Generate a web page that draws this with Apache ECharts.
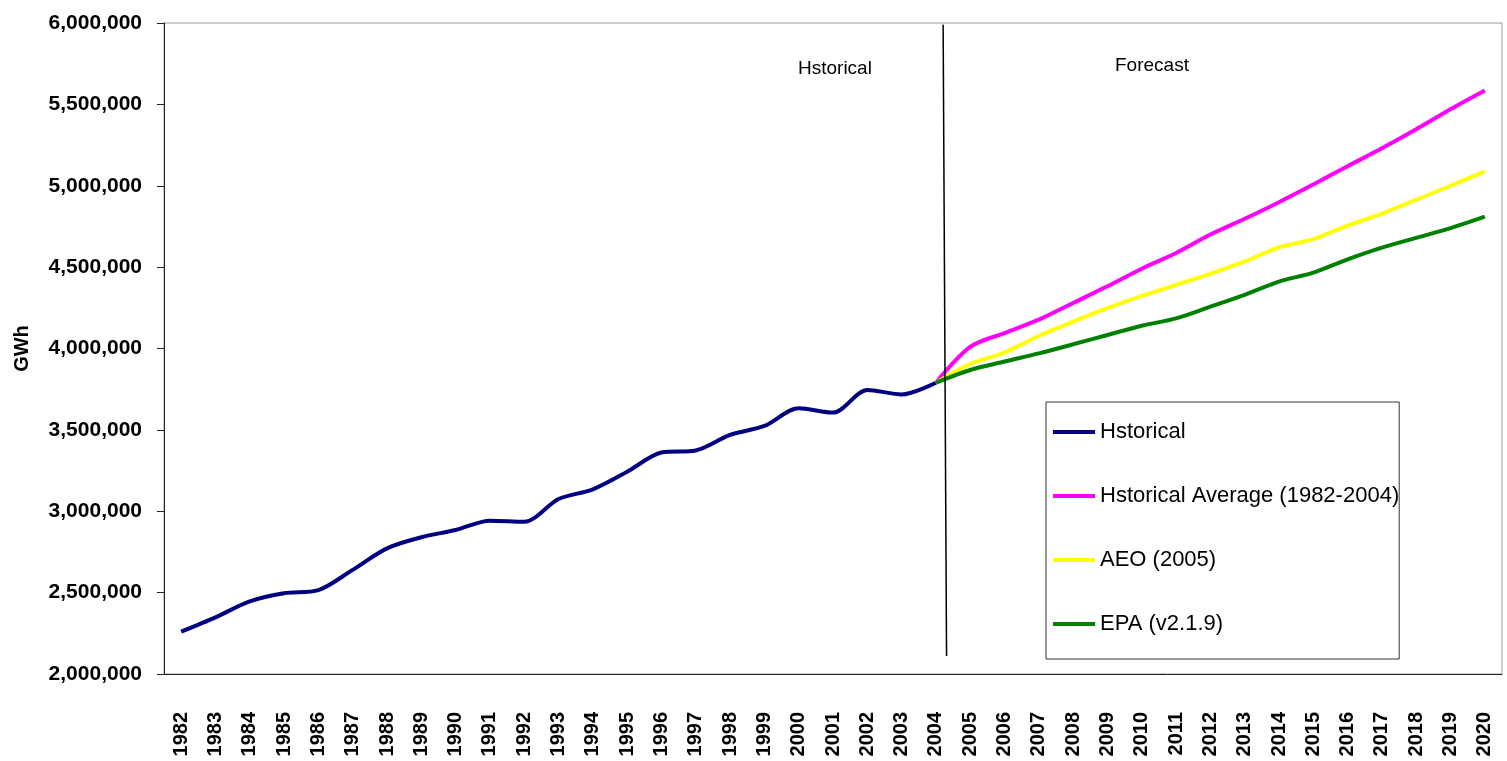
<!DOCTYPE html>
<html>
<head>
<meta charset="utf-8">
<style>
  html, body { margin: 0; padding: 0; background: #fff; }
  #chart { width: 1507px; height: 761px; }
</style>
<script src="https://cdn.jsdelivr.net/npm/echarts@6/dist/echarts.min.js"></script>
</head>
<body>
<div id="chart"></div>
<script>
// years on the category axis
const years = [
  "1982", "1983", "1984", "1985", "1986", "1987", "1988", "1989", "1990",
  "1991", "1992", "1993", "1994", "1995", "1996", "1997", "1998", "1999",
  "2000", "2001", "2002", "2003", "2004", "2005", "2006", "2007", "2008",
  "2009", "2010", "2011", "2012", "2013", "2014", "2015", "2016", "2017",
  "2018", "2019", "2020"
];

// 1982-2004, GWh
const historical = [
  2260000, 2348000, 2446000, 2496000, 2515000, 2640000, 2772000, 2840000,
  2885000, 2942000, 2935000, 3075000, 3135000, 3243000, 3361000, 3373000,
  3469000, 3524000, 3633000, 3606000, 3745000, 3718000, 3790000
];

// 2004-2020, GWh
const histAverage = [
  3790000, 4010000, 4095000, 4177000, 4280000, 4382000, 4490000, 4587000,
  4700000, 4797000, 4899000, 5008000, 5120000, 5230000, 5347000, 5470000, 5585000
];
const aeo2005 = [
  3790000, 3905000, 3975000, 4077000, 4165000, 4248000, 4323000, 4391000,
  4459000, 4535000, 4621000, 4672000, 4755000, 4828000, 4914000, 5000000, 5088000
];
const epa219 = [
  3790000, 3868000, 3920000, 3970000, 4026000, 4083000, 4140000, 4185000,
  4257000, 4330000, 4411000, 4466000, 4548000, 4620000, 4680000, 4740000, 4810000
];

// y axis ticks
const yMin = 2000000;
const yMax = 6000000;
const yStep = 500000;

const seriesNames = ["Hstorical", "Hstorical Average (1982-2004)", "AEO (2005)", "EPA (v2.1.9)"];
const seriesColors = ["#000080", "#ff00ff", "#ffff00", "#008000"];

// pad the series to the full year range
const histData = historical.concat(new Array(years.length - historical.length).fill(null));
const pad = new Array(years.length - histAverage.length).fill(null);
const forecastData = [histAverage, aeo2005, epa219].map(arr => pad.concat(arr));

const font = "'Liberation Sans', Arial, sans-serif";

function lineSeries(name, data, color) {
  return {
    name: name,
    type: "line",
    data: data,
    smooth: 0.3,
    showSymbol: false,
    symbol: "none",
    lineStyle: { width: 4, color: color },
    itemStyle: { color: color },
    z: 3
  };
}

const chart = echarts.init(document.getElementById("chart"));

const option = {
  animation: false,
  backgroundColor: "#fff",
  grid: {
    left: 164,
    right: 5,
    top: 23,
    bottom: 87,
    show: true,
    borderColor: "#999",
    borderWidth: 1
  },
  legend: {
    data: seriesNames,
    orient: "vertical",
    left: 1046,
    top: 402,
    padding: [19, 0, 24, 7],
    itemGap: 42,
    itemWidth: 42,
    itemHeight: 4,
    icon: "rect",
    borderColor: "#333",
    borderWidth: 1,
    backgroundColor: "#fff",
    textStyle: { fontFamily: font, fontSize: 22, lineHeight: 22, color: "#000" }
  },
  xAxis: [
    {
      type: "category",
      data: years,
      boundaryGap: true,
      axisLine: { lineStyle: { color: "#222", width: 1 } },
      axisTick: { length: 8, lineStyle: { color: "#222" } },
      axisLabel: {
        rotate: 90,
        interval: 0,
        margin: 38,
        fontFamily: font,
        fontSize: 20,
        fontWeight: "bold",
        color: "#000"
      },
      splitLine: { show: false }
    },
    {
      // hidden helper axis for the historical/forecast divider
      type: "value",
      min: 0,
      max: years.length,
      show: false
    }
  ],
  yAxis: {
    type: "value",
    min: yMin,
    max: yMax,
    interval: yStep,
    name: "GWh",
    nameLocation: "middle",
    nameRotate: 90,
    nameGap: 132,
    nameTextStyle: { fontFamily: font, fontSize: 20, fontWeight: "bold", color: "#000" },
    axisLine: { show: true, lineStyle: { color: "#222", width: 1 } },
    axisTick: { show: true, length: 7, lineStyle: { color: "#222" } },
    axisLabel: {
      margin: 22,
      fontFamily: font,
      fontSize: 21,
      fontWeight: "bold",
      color: "#000",
      formatter: v => String(v).replace(/\B(?=(\d{3})+(?!\d))/g, ",")
    },
    splitLine: { show: false }
  },
  series: [
    lineSeries(seriesNames[0], histData, seriesColors[0]),
    lineSeries(seriesNames[1], forecastData[0], seriesColors[1]),
    lineSeries(seriesNames[2], forecastData[1], seriesColors[2]),
    lineSeries(seriesNames[3], forecastData[2], seriesColors[3]),
    {
      name: "divider",
      type: "line",
      xAxisIndex: 1,
      data: [],
      silent: true,
      markLine: {
        silent: true,
        symbol: "none",
        label: { show: false },
        lineStyle: { color: "#000", width: 1.5, type: "solid" },
        data: [[{ coord: [22.71, 5990000] }, { coord: [22.81, 2110000] }]]
      }
    }
  ],
  graphic: [
    {
      type: "text",
      left: 798,
      top: 59,
      style: { text: "Hstorical", font: "19px " + font, fill: "#000" }
    },
    {
      type: "text",
      left: 1115,
      top: 56,
      style: { text: "Forecast", font: "19px " + font, fill: "#000" }
    }
  ]
};

chart.setOption(option);
</script>
</body>
</html>
